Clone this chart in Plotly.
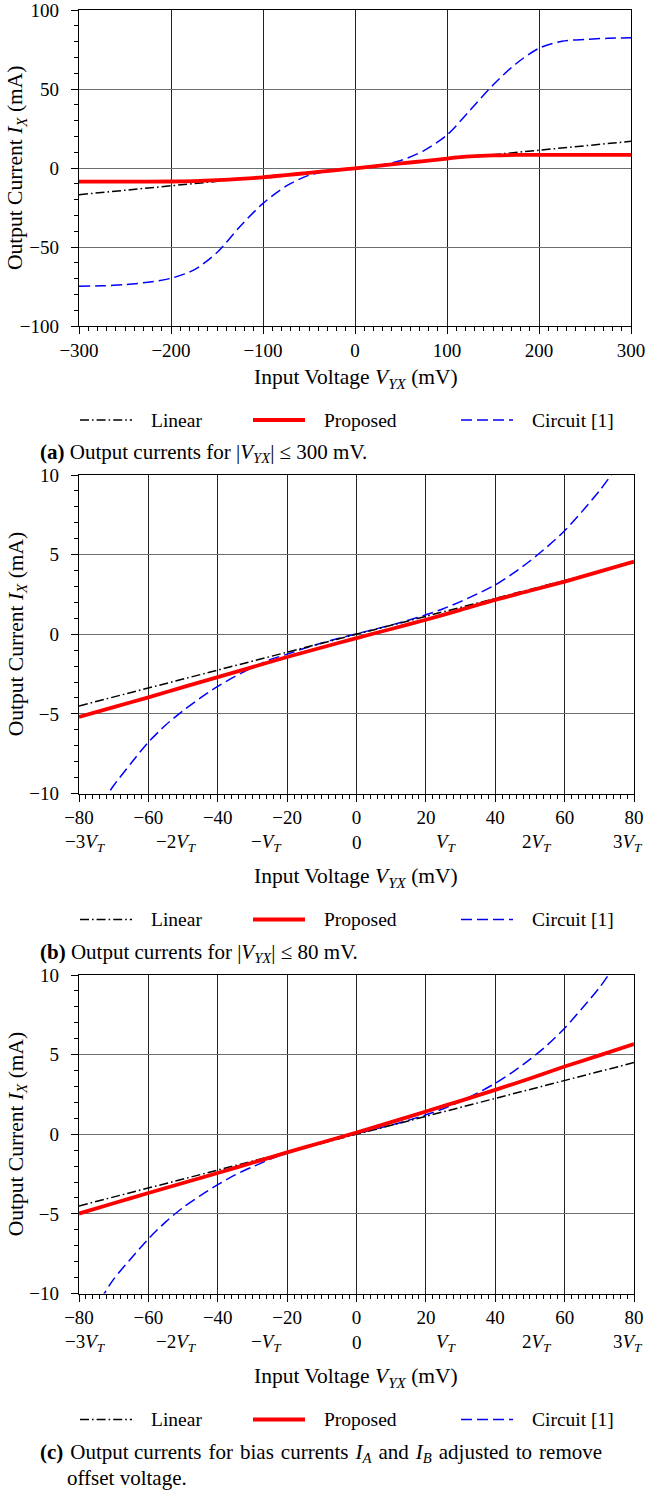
import plotly.graph_objects as go

W, H = 646, 1490
FONT = "Liberation Serif, 'Times New Roman', Times, serif"

# ---------------- data ----------------
# (a) wide sweep, |V_YX| <= 300 mV
va_lin = [-300, 300]
ia_lin = [-16.9, 16.9]
va_prop = [-300, -250, -200, -175, -150, -125, -100, -75, -50, -25, 0,
           25, 50, 75, 100, 125, 150, 175, 200, 250, 300]
ia_prop = [-8.6, -8.6, -8.55, -8.3, -7.7, -6.9, -5.9, -4.5, -3.1, -1.6, -0.2,
           1.4, 2.9, 4.4, 6.0, 7.3, 8.0, 8.25, 8.3, 8.3, 8.3]
va_circ = [-300, -275, -250, -225, -200, -175, -150, -125, -100, -75, -50, -25, 0,
           25, 50, 75, 100, 125, 150, 175, 200, 225, 250, 275, 300]
ia_circ = [-74.8, -74.6, -73.8, -72.3, -69.8, -64.5, -53.5, -37.0, -22.4, -11.5, -4.6, -1.5, 0.0,
           1.5, 4.8, 11.0, 20.9, 36.5, 52.5, 66.0, 75.8, 80.2, 81.4, 82.1, 82.5]

# (b) narrow sweep, |V_YX| <= 80 mV
vb_lin = [-80, 80]
ib_lin = [-4.5, 4.5]
vb_prop = [-80, -70, -60, -50, -40, -30, -20, -10, 0, 10, 20, 30, 40, 50, 60, 70, 80]
ib_prop = [-5.19, -4.58, -3.96, -3.32, -2.69, -2.06, -1.43, -0.83, -0.24,
           0.33, 0.91, 1.53, 2.16, 2.73, 3.31, 3.93, 4.56]
vb_circ = [-75, -71.5, -70, -65, -60, -55, -50, -45, -40, -35, -30, -25, -20, -15, -10, -5, 0,
           5, 10, 15, 20, 25, 30, 35, 40, 45, 50, 55, 60, 65, 70, 73.4, 76]
ib_circ = [-11.6, -10.0, -9.5, -8.1, -6.78, -5.7, -4.8, -4.0, -3.27, -2.65, -2.1, -1.6, -1.25, -0.88, -0.55, -0.25, 0.03,
           0.3, 0.58, 0.88, 1.22, 1.6, 2.05, 2.55, 3.1, 3.8, 4.6, 5.5, 6.5, 7.7, 9.0, 10.0, 10.9]

# (c) bias currents adjusted to remove the offset voltage
vc_lin = [-80, 80]
ic_lin = [-4.5, 4.5]
vc_prop = [-80, -70, -60, -50, -40, -30, -20, -10, 0, 10, 20, 30, 40, 50, 60, 70, 80]
ic_prop = [-4.98, -4.33, -3.69, -3.06, -2.43, -1.79, -1.14, -0.52, 0.11,
           0.76, 1.43, 2.10, 2.79, 3.50, 4.25, 4.95, 5.67]
vc_circ = [-76, -72.7, -70, -65, -60, -55, -50, -45, -40, -35, -30, -25, -20, -15, -10, -5, 0,
           5, 10, 15, 20, 25, 30, 35, 40, 45, 50, 55, 60, 65, 70, 72.6, 75]
ic_circ = [-11.3, -10.0, -9.1, -7.8, -6.57, -5.5, -4.6, -3.85, -3.17, -2.55, -2.05, -1.58, -1.18, -0.85, -0.55, -0.25, 0.03,
           0.3, 0.58, 0.88, 1.22, 1.6, 2.07, 2.6, 3.2, 3.9, 4.7, 5.6, 6.66, 7.9, 9.2, 10.0, 10.9]

series_names = ["Linear", "Proposed", "Circuit [1]"]
vt_labels = ["−3<i>V</i><sub><i>T</i></sub>", "−2<i>V</i><sub><i>T</i></sub>", "−<i>V</i><sub><i>T</i></sub>", "0",
             "<i>V</i><sub><i>T</i></sub>", "2<i>V</i><sub><i>T</i></sub>", "3<i>V</i><sub><i>T</i></sub>"]
vt_mv = [-78.0, -51.8, -26.0, 0, 26.0, 52.0, 78.2]
# the first line of caption (c) is set justified: a hair space widens each word gap
_c1 = "<b>(c)</b> Output currents for bias currents <i>I<sub>A</sub></i> and <i>I<sub>B</sub></i> adjusted to remove"
captions = [
    "<b>(a)</b> Output currents for |<i>V<sub>YX</sub></i>| ≤ 300 mV.",
    "<b>(b)</b> Output currents for |<i>V<sub>YX</sub></i>| ≤ 80 mV.",
    _c1.replace("</b> ", "</b> \u200a").replace("s ", "s \u200a").replace("r ", "r \u200a")
       .replace("</i> ", "</i> \u200a").replace("d ", "d \u200a").replace("o ", "o \u200a"),
]
caption_c2 = "offset voltage."

# ---------------- styles ----------------
LIN = dict(color="black", width=1.5, dash="9px,3px,1.6px,3px")
PROP = dict(color="#ff0000", width=3.8)
CIRC = dict(color="#0000ff", width=1.5, dash="11px,5px")
TICK_SIZE = 19
TITLE_SIZE = 21.5
LEG_SIZE = 19.5
CAP_SIZE = 21


def py(p):
    """pixel row -> paper y"""
    return 1 - p / H


def px(p):
    return p / W


X0 = 79
panels = [
    dict(top=10, bot=326, x1=631, data=[(va_lin, ia_lin), (va_prop, ia_prop), (va_circ, ia_circ)],
         xr=[-300, 300], xd=100, xm=10, yr=[-100, 100], yd=50, ym=10, vt=False),
    dict(top=475, bot=793.5, x1=634, data=[(vb_lin, ib_lin), (vb_prop, ib_prop), (vb_circ, ib_circ)],
         xr=[-80, 80], xd=20, xm=2, yr=[-10, 10], yd=5, ym=1, vt=True),
    dict(top=975, bot=1293.5, x1=634, data=[(vc_lin, ic_lin), (vc_prop, ic_prop), (vc_circ, ic_circ)],
         xr=[-80, 80], xd=20, xm=2, yr=[-10, 10], yd=5, ym=1, vt=True),
]

fig = go.Figure()
annotations = []
shapes = []
styles = [LIN, PROP, CIRC]

for k, p in enumerate(panels):
    sfx = "" if k == 0 else str(k + 1)
    xa, ya = "x" + sfx, "y" + sfx
    # draw order: circuit, linear, proposed on top
    for j in [2, 0, 1]:
        xs, ys = p["data"][j]
        fig.add_trace(go.Scatter(
            x=xs, y=ys, mode="lines", name=series_names[j], showlegend=False,
            line=dict(shape="spline", smoothing=0.8, **styles[j]) if j != 0 else styles[j],
            xaxis=xa, yaxis=ya,
        ))
    common = dict(
        showline=True, linecolor="black", linewidth=1.3, mirror=True,
        ticks="outside", ticklen=7, tickwidth=1.1, tickcolor="black",
        zeroline=False, showgrid=True, automargin=False, ticklabeloverflow="allow",
        tickfont=dict(family=FONT, size=TICK_SIZE, color="black"),
    )
    fig.update_layout(**{
        "xaxis" + sfx: dict(
            domain=[px(X0), px(p["x1"])], anchor=ya, range=p["xr"], dtick=p["xd"], tick0=0,
            gridcolor="#222", gridwidth=1, ticklabelstandoff=0,
            minor=dict(dtick=p["xm"], ticks="outside", ticklen=4, tickwidth=1, tickcolor="black", showgrid=False),
            **common),
        "yaxis" + sfx: dict(
            domain=[py(p["bot"]), py(p["top"])], anchor=xa, range=p["yr"], dtick=p["yd"], tick0=0,
            gridcolor="#6e6e6e", gridwidth=1.4, ticklabelstandoff=8,
            minor=dict(dtick=p["ym"], ticks="outside", ticklen=4, tickwidth=1, tickcolor="black", showgrid=False),
            **common),
    })

    bot = p["bot"]
    off = 32 if p["vt"] else 0
    # V_T row of tick labels
    if p["vt"]:
        for lab, v in zip(vt_labels, vt_mv):
            annotations.append(dict(x=v, xref=xa, y=py(bot + 49), yref="paper", text=lab, showarrow=False,
                                    xanchor="center", yanchor="middle",
                                    font=dict(family=FONT, size=TICK_SIZE, color="black")))
    # axis titles
    annotations.append(dict(x=px(356), xref="paper", y=py(bot + 52 + off), yref="paper",
                            text="Input Voltage <i>V</i><sub><i>YX</i></sub> (mV)", showarrow=False,
                            xanchor="center", yanchor="middle", font=dict(family=FONT, size=TITLE_SIZE, color="black")))
    annotations.append(dict(x=px(17), xref="paper", y=py((p["top"] + bot) / 2), yref="paper",
                            text="Output Current <i>I</i><sub><i>X</i></sub> (mA)", showarrow=False, textangle=-90,
                            xanchor="center", yanchor="middle", font=dict(family=FONT, size=TITLE_SIZE, color="black")))
    # legend row
    ly = bot + 94 + off
    for (sx0, sx1, tx), st, nm in zip([(80, 132, 149), (253, 305, 322), (461, 513, 530)], styles, series_names):
        shapes.append(dict(type="line", xref="paper", yref="paper", x0=px(sx0), x1=px(sx1), y0=py(ly), y1=py(ly),
                           line=dict(color=st["color"], width=st["width"], dash=st.get("dash", "solid"))))
        annotations.append(dict(x=px(tx), xref="paper", y=py(ly), yref="paper", text=nm, showarrow=False,
                                xanchor="left", yanchor="middle", font=dict(family=FONT, size=LEG_SIZE, color="black")))
    # caption
    annotations.append(dict(x=px(38), xref="paper", y=py(bot + 127 + off), yref="paper", text=captions[k],
                            showarrow=False, xanchor="left", yanchor="middle",
                            font=dict(family=FONT, size=CAP_SIZE, color="black")))

annotations.append(dict(x=px(65), xref="paper", y=py(1478), yref="paper", text=caption_c2,
                        showarrow=False, xanchor="left", yanchor="middle",
                        font=dict(family=FONT, size=CAP_SIZE, color="black")))

fig.update_layout(
    width=W, height=H, margin=dict(l=0, r=0, t=0, b=0, autoexpand=False),
    paper_bgcolor="white", plot_bgcolor="white",
    annotations=annotations, shapes=shapes, showlegend=False,
)

fig.write_html("out.html", post_script="document.body.style.margin = '0';")
